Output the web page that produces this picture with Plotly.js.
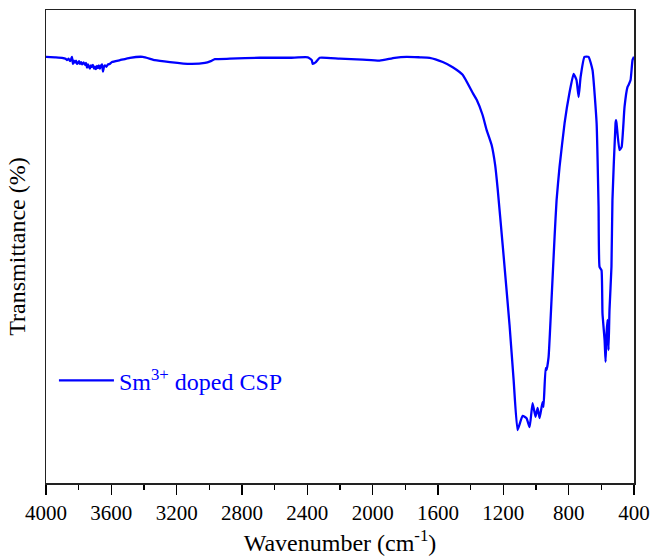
<!DOCTYPE html>
<html>
<head>
<meta charset="utf-8">
<script src="https://cdn.plot.ly/plotly-3.0.1.min.js"></script>
<style>html,body{margin:0;padding:0;background:#fff;}#chart{width:652px;height:558px;}</style>
</head>
<body>
<div id="chart"></div>
<script>
const wavenumber = [4000,3945,3902,3880,3872,3862,3853,3846,3841,3835,3829,3823,3816,3810,3804,3798,3792,3785,3778,3770,3761,3755,3749,3743,3737,3731,3725,3719,3713,3706,3700,3694,3688,3682,3676,3670,3664,3657,3651,3645,3639,3630,3621,3610,3596,3547,3486,3407,3333,3241,3119,3027,2991,2966,2874,2691,2507,2397,2373,2367,2348,2324,2202,2061,1957,1865,1792,1712,1651,1571,1510,1449,1388,1363,1327,1302,1272,1250,1235,1204,1162,1137,1113,1082,1058,1039,1021,1003,990,978,960,954,941,935,923,905,886,874,856,825,795,770,752,739,727,703,678,654,629,617,611,599,593,580,574,568,562,556,550,538,532,513,510,507,489,476,458,440,434,421,409,400];
const transmittance = [90.1,90.0,89.9,89.7,89.4,89.7,89.2,89.6,90.1,88.6,89.3,88.9,89.3,88.6,88.8,89.2,88.6,89.0,88.5,88.9,88.4,88.8,87.8,88.5,88.0,87.6,88.3,88.0,88.4,87.6,88.0,87.5,88.2,87.7,88.3,87.6,88.2,88.5,87.0,88.0,88.3,88.0,88.5,88.6,89.0,89.4,89.9,90.1,89.4,89.0,88.6,88.8,89.2,89.6,89.7,89.9,89.9,90.0,89.4,88.6,89.0,89.9,89.7,89.5,89.3,89.9,90.1,90.0,89.9,89.0,87.9,86.3,82.5,81.0,77.8,74.6,71.5,67.2,62.3,50.3,33.4,21.8,11.2,14.2,13.7,11.8,16.9,14.0,15.9,13.7,17.1,16.1,24.3,23.9,26.6,38.7,52.2,59.8,66.8,76.1,82.5,86.5,85.2,81.6,85.8,90.1,90.1,87.3,76.1,58.4,45.7,45.0,35.9,30.2,25.6,31.7,34.5,28.1,36.6,45.7,59.8,76.1,76.7,76.1,70.4,71.0,79.5,83.7,84.1,85.2,89.4,90.1];
const xTickVals = [4000,3600,3200,2800,2400,2000,1600,1200,800,400];
const seriesName = 'Sm<sup>3+</sup> doped CSP';

const serif = 'Liberation Serif, Times New Roman, serif';
const trace = {
  x: wavenumber, y: transmittance, type: 'scatter', mode: 'lines',
  name: seriesName,
  line: {color: '#0000ff', width: 2.3, shape: 'spline', smoothing: 0.4}
};
const layout = {
  width: 652, height: 558,
  margin: {l: 46, r: 18, t: 10, b: 75},
  paper_bgcolor: '#fff', plot_bgcolor: '#fff',
  font: {family: serif, color: '#000'},
  showlegend: true,
  legend: {x: 0.0135, y: 0.216, xanchor: 'left', yanchor: 'middle', bgcolor: 'rgba(0,0,0,0)',
           font: {family: serif, size: 24, color: '#0000ff'}, itemwidth: 55},
  xaxis: {
    range: [4000, 400], autorange: false,
    tickvals: xTickVals, ticks: 'outside', ticklen: 10, tickwidth: 1.3, tickcolor: '#000',
    minor: {dtick: 200, ticks: 'outside', ticklen: 5, tickwidth: 1.3, tickcolor: '#000', showgrid: false},
    showgrid: false, zeroline: false,
    showline: true, mirror: true, linecolor: '#222', linewidth: 1.5,
    tickfont: {family: serif, size: 21, color: '#000'},
    title: {text: 'Wavenumber (cm<sup>-1</sup>)', font: {family: serif, size: 24, color: '#000'}, standoff: 10}
  },
  yaxis: {
    range: [0, 100], autorange: false,
    showticklabels: false, ticks: '', showgrid: false, zeroline: false,
    showline: true, mirror: true, linecolor: '#222', linewidth: 1.5,
    title: {text: 'Transmittance (%)', font: {family: serif, size: 24, color: '#000'}, standoff: 12}
  }
};
Plotly.newPlot('chart', [trace], layout, {displayModeBar: false, staticPlot: true});
</script>
</body>
</html>
